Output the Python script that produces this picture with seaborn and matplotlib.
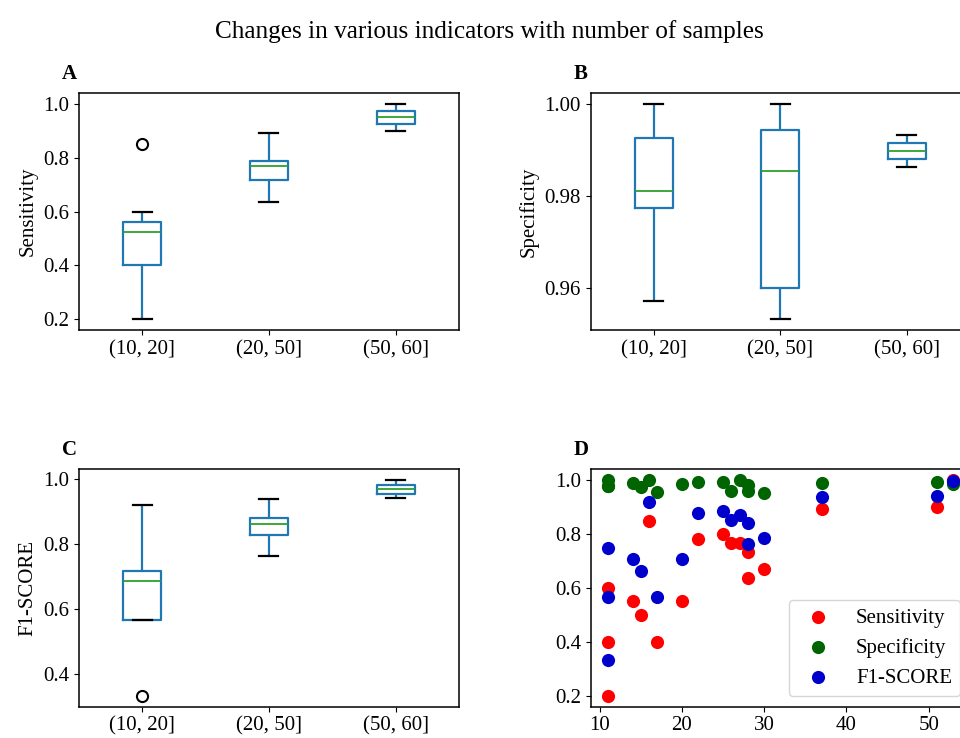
import numpy as np
import pandas as pd
import matplotlib
matplotlib.use("Agg")
import matplotlib.pyplot as plt
import seaborn as sns

# number of samples in each run and the three indicators for that run
samples = [11, 11, 11, 14, 15, 16, 17, 20, 22, 25, 26, 27, 28, 28, 30, 37, 51, 53]
sensitivity = [0.2, 0.4, 0.6, 0.55, 0.5, 0.85, 0.4, 0.55,
               0.783, 0.802, 0.768, 0.768, 0.733, 0.637, 0.669, 0.891,
               0.9, 1.0]
specificity = [1.0, 0.978, 0.978, 0.99, 0.975, 1.0, 0.957, 0.984,
               0.9944, 0.9944, 0.96, 1.0, 0.9826, 0.96, 0.9531, 0.988,
               0.9933, 0.9862]
f1_score = [0.333, 0.568, 0.75, 0.706, 0.663, 0.92, 0.565, 0.707,
            0.879, 0.886, 0.852, 0.87, 0.842, 0.763, 0.785, 0.938,
            0.941, 0.996]
bins = [10, 20, 50, 60]

df = pd.DataFrame({'samples': samples,
                   'Sensitivity': sensitivity,
                   'Specificity': specificity,
                   'F1-SCORE': f1_score})
df['group'] = pd.cut(df['samples'], bins=bins)

plt.rcParams['font.family'] = ['Liberation Serif', 'DejaVu Serif']
plt.rcParams['font.size'] = 15
plt.rcParams['axes.linewidth'] = 1.1

fig = plt.figure(figsize=(9.6, 7.38), dpi=100)
ax_a = fig.add_axes([0.0823, 0.5528, 0.3958, 0.3211])
ax_b = fig.add_axes([0.6153, 0.5528, 0.3951, 0.3211])
ax_c = fig.add_axes([0.0823, 0.0424, 0.3958, 0.3217])
ax_d = fig.add_axes([0.6153, 0.0424, 0.3958, 0.3217])

box_kw = dict(width=0.3, fill=False, color='#1f77b4',
              boxprops=dict(color='#1f77b4', linewidth=1.6),
              whiskerprops=dict(color='#1f77b4', linewidth=1.6),
              capprops=dict(color='black', linewidth=1.6),
              medianprops=dict(color='#2ca02c', linewidth=1.3),
              flierprops=dict(marker='o', markerfacecolor='none',
                              markeredgecolor='black', markersize=8,
                              markeredgewidth=1.5))

for ax, col, letter in [(ax_a, 'Sensitivity', 'A'),
                        (ax_b, 'Specificity', 'B'),
                        (ax_c, 'F1-SCORE', 'C')]:
    sns.boxplot(data=df, x='group', y=col, ax=ax, **box_kw)
    ax.set_xlabel('')
    ax.set_ylabel(col)
    ax.text(-0.045, 1.06, letter, transform=ax.transAxes,
            fontweight='bold', fontsize=15)

ax_a.set_yticks([0.2, 0.4, 0.6, 0.8, 1.0])
ax_b.set_yticks([0.96, 0.98, 1.00])
ax_c.set_yticks([0.4, 0.6, 0.8, 1.0])

# panel D: every run as a point
sns.scatterplot(data=df, x='samples', y='Sensitivity', color='red', s=90,
                linewidth=0, label='Sensitivity', ax=ax_d)
sns.scatterplot(data=df, x='samples', y='Specificity', color='darkgreen', s=90,
                linewidth=0, label='Specificity', ax=ax_d)
sns.scatterplot(data=df, x='samples', y='F1-SCORE', color='mediumblue', s=90,
                linewidth=0, label='F1-SCORE', ax=ax_d)
ax_d.set_xlabel('')
ax_d.set_ylabel('')
ax_d.set_xticks([10, 20, 30, 40, 50])
ax_d.set_yticks([0.2, 0.4, 0.6, 0.8, 1.0])
ax_d.legend(loc='lower right', fontsize=15)
ax_d.text(-0.045, 1.06, 'D', transform=ax_d.transAxes,
          fontweight='bold', fontsize=15)

fig.text(0.51, 0.973, 'Changes in various indicators with number of samples',
         ha='center', va='top', fontsize=18.2)

fig.savefig('out.png', dpi=100)
